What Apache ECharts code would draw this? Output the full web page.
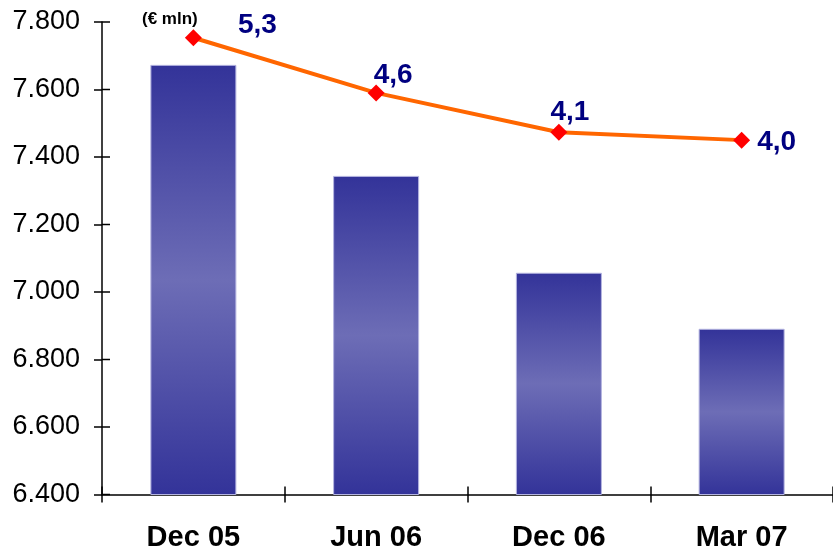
<!DOCTYPE html>
<html>
<head>
<meta charset="utf-8">
<script src="https://cdn.jsdelivr.net/npm/echarts@6/dist/echarts.min.js"></script>
<style>html,body{margin:0;padding:0;background:#fff}#c{width:833px;height:554px}</style>
</head>
<body>
<div id="c"></div>
<script>
var categories = ['Dec 05', 'Jun 06', 'Dec 06', 'Mar 07'];
var barValues = [7673, 7344, 7057, 6891];
var lineValues = [5.3, 4.6, 4.1, 4.0];
var yTickLabels = ['6.400', '6.600', '6.800', '7.000', '7.200', '7.400', '7.600', '7.800'];
var unitLabel = '(€ mln)';

var labelOffsets = [[64, -12], [17, -18], [11, -20], [35, 2]];

var chart = echarts.init(document.getElementById('c'), null, {renderer: 'canvas'});
var FONT = '"Liberation Sans", Arial, sans-serif';

var barGradient = new echarts.graphic.LinearGradient(0, 0, 0, 1, [
  {offset: 0, color: '#333399'},
  {offset: 0.5, color: '#6d6db6'},
  {offset: 1, color: '#333399'}
]);

var tickValues = yTickLabels.map(function (s) { return parseFloat(s.replace('.', '')); });
var yMin = tickValues[0], yMax = tickValues[tickValues.length - 1], yStep = tickValues[1] - tickValues[0];
var gridRect = {left: 102, top: 22, width: 735, height: 472.5, containLabel: false};
var tickStyle = {color: '#000', width: 1.5};

option = {
  animation: false,
  backgroundColor: '#ffffff',
  title: {
    text: unitLabel,
    left: 137, top: 6,
    textStyle: {fontFamily: FONT, fontSize: 17, fontWeight: 'bold', color: '#000'}
  },
  grid: [Object.assign({}, gridRect), Object.assign({}, gridRect)],
  xAxis: [{
    type: 'category',
    gridIndex: 0,
    data: categories,
    boundaryGap: true,
    axisLine: {show: true, onZero: false, lineStyle: tickStyle},
    axisTick: {show: true, length: 8, alignWithLabel: false, lineStyle: tickStyle},
    axisLabel: {margin: 29, fontFamily: FONT, fontSize: 29, fontWeight: 'bold', color: '#000'},
    splitLine: {show: false}
  }, {
    type: 'category',
    gridIndex: 1,
    data: categories,
    boundaryGap: true,
    axisLine: {show: false, onZero: false},
    axisTick: {show: true, inside: true, length: 8, lineStyle: tickStyle},
    axisLabel: {show: false},
    splitLine: {show: false}
  }],
  yAxis: [{
    type: 'value',
    gridIndex: 0,
    position: 'left',
    min: yMin, max: yMax, interval: yStep,
    axisLine: {show: true, lineStyle: tickStyle},
    axisTick: {show: true, length: 8, lineStyle: tickStyle},
    axisLabel: {
      margin: 22, fontFamily: FONT, fontSize: 27, color: '#000',
      formatter: function (v) { return yTickLabels[Math.round((v - yMin) / yStep)]; }
    },
    splitLine: {show: false}
  }, {
    type: 'value',
    gridIndex: 0,
    position: 'right',
    min: -0.5, max: 5.5,
    show: false,
    splitLine: {show: false}
  }, {
    type: 'value',
    gridIndex: 1,
    position: 'left',
    min: yMin, max: yMax, interval: yStep,
    axisLine: {show: false, onZero: false},
    axisTick: {show: false},
    axisLabel: {show: false},
    splitLine: {show: false}
  }],
  series: [{
    type: 'bar',
    xAxisIndex: 0, yAxisIndex: 0,
    data: barValues,
    barWidth: 86,
    itemStyle: {color: barGradient, borderColor: '#b4b4e0', borderWidth: 1},
    z: 2
  }, {
    type: 'line',
    xAxisIndex: 1, yAxisIndex: 2,
    data: barValues,
    symbol: 'none',
    silent: true,
    lineStyle: {opacity: 0},
    z: 0
  }, {
    type: 'custom',
    xAxisIndex: 0, yAxisIndex: 0,
    silent: true,
    clip: false,
    z: 10,
    data: tickValues.map(function (v) { return [0, v]; }),
    encode: {x: 0, y: 1},
    renderItem: function (params, api) {
      var y = api.coord([0, api.value(1)])[1];
      var x = params.coordSys.x;
      return {
        type: 'line',
        shape: {x1: x, y1: y, x2: x + 8, y2: y},
        style: {stroke: '#000', lineWidth: 1.5}
      };
    }
  }, {
    type: 'line',
    xAxisIndex: 0, yAxisIndex: 1,
    data: lineValues.map(function (v, i) {
      return {value: v, label: {offset: labelOffsets[i]}};
    }),
    lineStyle: {color: '#ff6600', width: 4},
    symbol: 'diamond',
    symbolSize: 17,
    itemStyle: {color: '#ff0000'},
    label: {
      show: true,
      position: 'inside',
      fontFamily: FONT, fontSize: 28, fontWeight: 'bold', color: '#000080',
      formatter: function (p) { return p.value.toFixed(1).replace('.', ','); }
    },
    z: 5
  }]
};
chart.setOption(option);
</script>
</body>
</html>
